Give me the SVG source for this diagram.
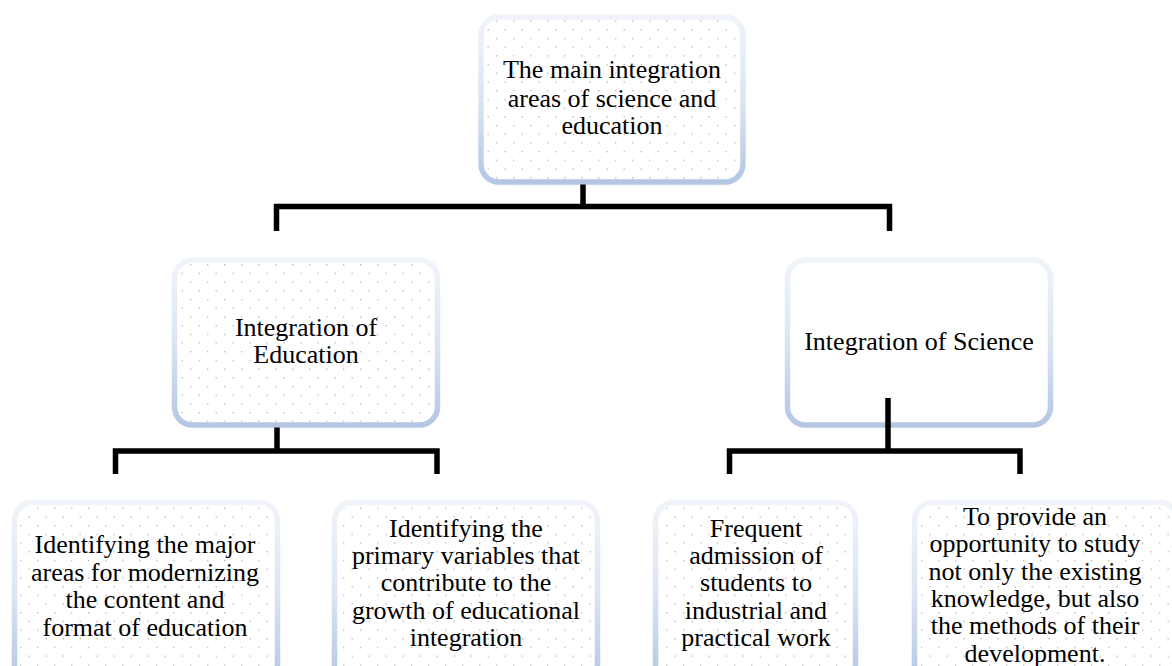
<svg xmlns="http://www.w3.org/2000/svg" width="1172" height="666" viewBox="0 0 1172 666">
<defs>
<pattern id="dots" patternUnits="userSpaceOnUse" width="17" height="17.4" x="3" y="3">
<rect x="0" y="0" width="1.4" height="1.4" fill="#bdbdbd"/>
<rect x="8.5" y="8.7" width="1.4" height="1.4" fill="#bdbdbd"/>
</pattern>
<linearGradient id="edge" x1="0" y1="0" x2="0" y2="1">
<stop offset="0" stop-color="#f0f4fa"/>
<stop offset="0.5" stop-color="#dbe5f3"/>
<stop offset="1" stop-color="#b3c6e3"/>
</linearGradient>
</defs>
<style>
.box{fill:#ffffff;stroke:url(#edge);stroke-width:5.5}
.dot{fill:url(#dots);stroke:none}
.t{font-family:"Times New Roman","Liberation Serif",Tinos,"Noto Serif","DejaVu Serif",serif;font-size:26px;fill:#000;text-anchor:middle}
.c{fill:none;stroke:#000;stroke-width:5.5;stroke-linejoin:miter;stroke-linecap:butt}
</style>
<rect width="1172" height="666" fill="#ffffff"/>

<g id="node-root">
<rect class="box" x="481" y="17" width="262" height="165" rx="18"/>
<rect class="dot" x="484" y="20" width="256" height="159" rx="15"/>
<text class="t" x="612" y="78">The main integration</text>
<text class="t" x="612" y="106.5">areas of science and</text>
<text class="t" x="612" y="134">education</text>
</g>

<g id="node-education">
<rect class="box" x="174.5" y="260" width="263" height="165" rx="18"/>
<rect class="dot" x="177.5" y="263" width="257" height="159" rx="15"/>
<text class="t" x="306" y="336">Integration of</text>
<text class="t" x="306" y="363">Education</text>
</g>

<g id="node-science">
<rect class="box" x="787.5" y="260" width="263" height="165" rx="18"/>
<text class="t" x="919" y="350">Integration of Science</text>
</g>

<g id="node-modernizing">
<rect class="box" x="14.5" y="502.5" width="263" height="180" rx="18"/>
<rect class="dot" x="17.5" y="505.5" width="257" height="174" rx="15"/>
<text class="t" x="145" y="553.3">Identifying the major</text>
<text class="t" x="145" y="580.8">areas for modernizing</text>
<text class="t" x="145" y="608.3">the content and</text>
<text class="t" x="145" y="635.8">format of education</text>
</g>

<g id="node-variables">
<rect class="box" x="334.5" y="502.5" width="263" height="180" rx="18"/>
<rect class="dot" x="337.5" y="505.5" width="257" height="174" rx="15"/>
<text class="t" x="466" y="536.7">Identifying the</text>
<text class="t" x="466" y="564">primary variables that</text>
<text class="t" x="466" y="591.3">contribute to the</text>
<text class="t" x="466" y="618.6">growth of educational</text>
<text class="t" x="466" y="646">integration</text>
</g>

<g id="node-admission">
<rect class="box" x="655.5" y="502.5" width="200" height="180" rx="18"/>
<rect class="dot" x="658.5" y="505.5" width="194" height="174" rx="15"/>
<text class="t" x="756" y="536.7">Frequent</text>
<text class="t" x="756" y="564">admission of</text>
<text class="t" x="756" y="591.3">students to</text>
<text class="t" x="756" y="618.6">industrial and</text>
<text class="t" x="756" y="646">practical work</text>
</g>

<g id="node-opportunity">
<rect class="box" x="914.5" y="502.5" width="263" height="180" rx="18"/>
<rect class="dot" x="917.5" y="505.5" width="257" height="174" rx="15"/>
<text class="t" x="1035" y="525">To provide an</text>
<text class="t" x="1035" y="552.3">opportunity to study</text>
<text class="t" x="1035" y="579.6">not only the existing</text>
<text class="t" x="1035" y="606.9">knowledge, but also</text>
<text class="t" x="1035" y="634.2">the methods of their</text>
<text class="t" x="1035" y="661.5">development.</text>
</g>

<g id="connectors">
<path class="c" d="M583,184.5 V206.5"/>
<path class="c" d="M276.5,231 V206.5 H889.5 V231"/>
<path class="c" d="M277,427.5 V451"/>
<path class="c" d="M115.5,474 V451 H437 V474"/>
<path class="c" d="M888,398 V451"/>
<path class="c" d="M729.5,474 V451 H1020 V474"/>
</g>
</svg>
